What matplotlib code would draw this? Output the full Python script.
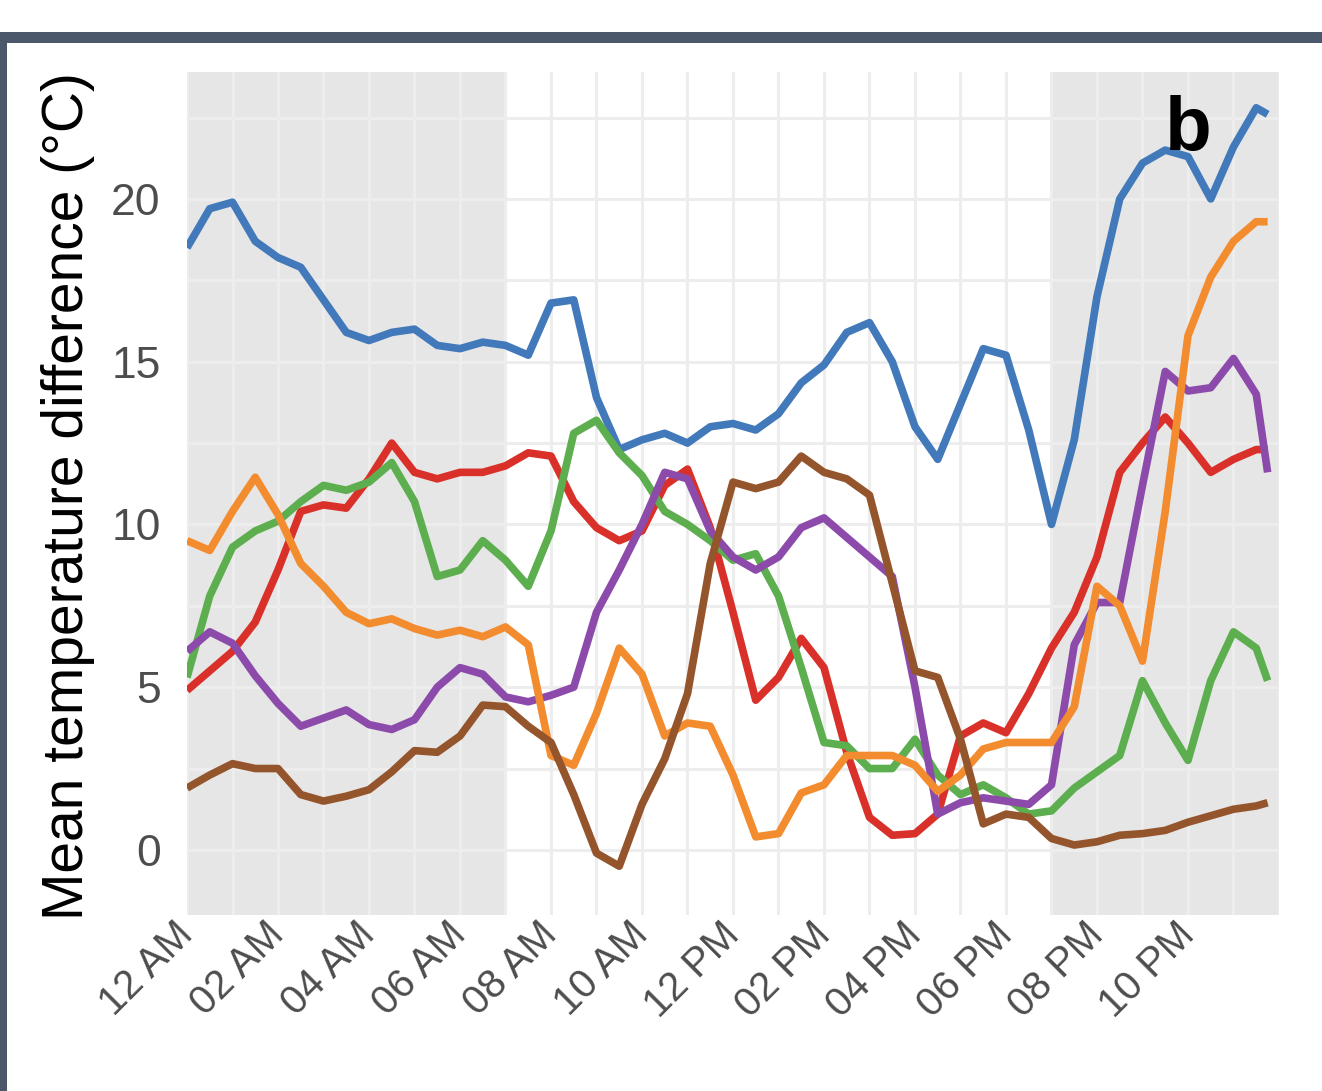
import numpy as np
import matplotlib
matplotlib.use("Agg")
import matplotlib.pyplot as plt
from matplotlib.patches import Rectangle
from matplotlib.ticker import MultipleLocator

plt.rcParams['font.family'] = ['Liberation Sans', 'DejaVu Sans']

# ---- data (half-hour readings, last point at 23:45) ----
hours = np.append(np.arange(0, 24, 0.5), 23.75)

blue = [18.5, 19.7, 19.9, 18.7, 18.2, 17.9, 16.9, 15.9, 15.65, 15.9, 16.0, 15.5,
        15.4, 15.6, 15.5, 15.2, 16.8, 16.9, 13.9, 12.3, 12.6, 12.8, 12.5, 13.0,
        13.1, 12.9, 13.4, 14.35, 14.9, 15.9, 16.2, 15.0, 13.0, 12.0, 13.7, 15.4,
        15.2, 12.9, 10.0, 12.6, 17.0, 20.0, 21.1, 21.5, 21.3, 20.0, 21.6, 22.8, 22.6]
red = [4.9, 5.5, 6.1, 7.0, 8.6, 10.4, 10.6, 10.5, 11.4, 12.5, 11.6, 11.4,
       11.6, 11.6, 11.8, 12.2, 12.1, 10.7, 9.9, 9.5, 9.8, 11.2, 11.7, 9.9,
       7.3, 4.6, 5.3, 6.5, 5.6, 3.0, 1.0, 0.45, 0.5, 1.1, 3.5, 3.9,
       3.6, 4.8, 6.2, 7.3, 9.0, 11.6, 12.5, 13.3, 12.5, 11.6, 12.0, 12.3, 12.3]
green = [5.3, 7.8, 9.3, 9.8, 10.1, 10.7, 11.2, 11.05, 11.3, 11.9, 10.7, 8.4,
         8.6, 9.5, 8.9, 8.1, 9.8, 12.8, 13.2, 12.2, 11.5, 10.4, 10.0, 9.5,
         8.9, 9.1, 7.8, 5.6, 3.3, 3.2, 2.5, 2.5, 3.4, 2.3, 1.7, 2.0,
         1.6, 1.1, 1.2, 1.9, 2.4, 2.9, 5.2, 3.9, 2.75, 5.2, 6.7, 6.2, 5.2]
orange = [9.5, 9.2, 10.4, 11.45, 10.3, 8.8, 8.1, 7.3, 6.95, 7.1, 6.8, 6.6,
          6.75, 6.55, 6.85, 6.3, 2.9, 2.6, 4.2, 6.2, 5.4, 3.5, 3.9, 3.8,
          2.3, 0.4, 0.5, 1.75, 2.0, 2.9, 2.9, 2.9, 2.6, 1.8, 2.3, 3.1,
          3.3, 3.3, 3.3, 4.4, 8.1, 7.5, 5.8, 10.4, 15.8, 17.6, 18.7, 19.3, 19.3]
purple = [6.1, 6.7, 6.35, 5.35, 4.5, 3.8, 4.05, 4.3, 3.85, 3.7, 4.0, 5.0,
          5.6, 5.4, 4.7, 4.55, 4.75, 5.0, 7.3, 8.6, 10.0, 11.6, 11.4, 9.8,
          9.0, 8.6, 9.0, 9.9, 10.2, 9.6, 9.0, 8.4, 5.0, 1.1, 1.45, 1.6,
          1.5, 1.4, 2.0, 6.3, 7.6, 7.6, 11.2, 14.7, 14.1, 14.2, 15.1, 14.0, 11.6]
brown = [1.9, 2.3, 2.65, 2.5, 2.5, 1.7, 1.5, 1.65, 1.85, 2.4, 3.05, 3.0,
         3.5, 4.45, 4.4, 3.8, 3.3, 1.7, -0.1, -0.5, 1.4, 2.8, 4.8, 8.8,
         11.3, 11.1, 11.3, 12.1, 11.6, 11.4, 10.9, 8.2, 5.5, 5.3, 3.4, 0.8,
         1.1, 1.0, 0.35, 0.15, 0.25, 0.45, 0.5, 0.6, 0.85, 1.05, 1.25, 1.35, 1.45]

series = [(blue, '#4179BA'), (red, '#D9312A'), (green, '#5CAE4E'),
          (purple, '#8C4BAA'), (orange, '#F28C2F'), (brown, '#95552C')]

night = [(0, 7), (19, 24)]
tick_hours = np.arange(0, 24, 2)
tick_labels = ['12 AM', '02 AM', '04 AM', '06 AM', '08 AM', '10 AM',
               '12 PM', '02 PM', '04 PM', '06 PM', '08 PM', '10 PM']

# ---- figure ----
W, H = 1322, 1091
fig = plt.figure(figsize=(W / 100, H / 100), dpi=100)
fig.patch.set_facecolor('white')
ax = fig.add_axes([187 / W, 1 - 915 / H, (1279 - 187) / W, (915 - 72) / H])

for a, b in night:
    ax.axvspan(a, b, color='#E6E6E6', lw=0, zorder=0)

for vals, col in series:
    ax.plot(hours, vals, color=col, lw=5.5, solid_joinstyle='round',
            solid_capstyle='butt', zorder=3)

ax.set_xlim(0, 24)
ax.set_ylim(-2, 23.9)
ax.set_xticks(tick_hours)
ax.set_xticklabels(tick_labels)
ax.xaxis.set_minor_locator(MultipleLocator(1))
ax.yaxis.set_major_locator(MultipleLocator(5))
ax.yaxis.set_minor_locator(MultipleLocator(2.5))
ax.grid(True, which='both', color='#EDEDED', lw=2.2, zorder=1)
ax.set_axisbelow(True)
for s in ax.spines.values():
    s.set_visible(False)

ax.tick_params(which='both', length=0)
ax.tick_params(axis='y', labelsize=32, labelcolor='#4D4D4D', pad=19)
ax.tick_params(axis='x', labelsize=29, labelcolor='#4D4D4D', pad=10)
for lab in ax.get_xticklabels():
    lab.set_rotation(45)
    lab.set_ha('right')
    lab.set_va('center')
    lab.set_rotation_mode('anchor')

fig.text(68 / W, 1 - 496 / H, 'Mean temperature difference (°C)',
         rotation=90, ha='center', va='center', fontsize=41, color='black')

ax.text(22.0, 21.5, 'b', fontsize=55, fontweight='bold', ha='center',
        va='baseline', color='black', zorder=5)

# dark frame on top and left edges
fig.add_artist(Rectangle((0, 0), 7 / W, 1 - 32 / H, transform=fig.transFigure,
                         color='#4B576B', lw=0))
fig.add_artist(Rectangle((0, 1 - 43 / H), 1, 11 / H, transform=fig.transFigure,
                         color='#4B576B', lw=0))

fig.savefig('out.png', dpi=100, facecolor='white')
